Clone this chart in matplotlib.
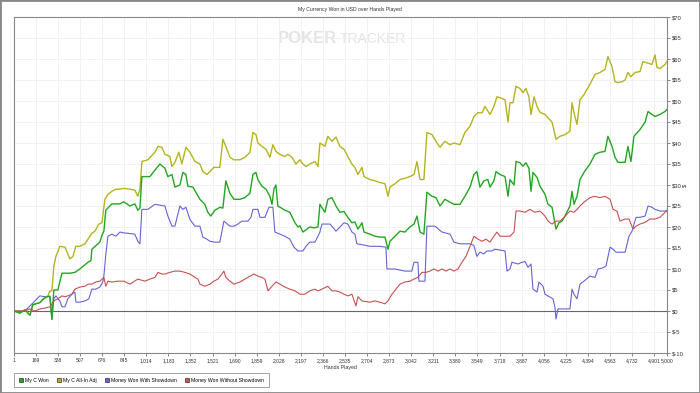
import matplotlib
matplotlib.use("Agg")
import matplotlib.pyplot as plt
from matplotlib.lines import Line2D
from matplotlib.patches import Rectangle

plt.rcParams['font.family'] = ['Liberation Sans', 'DejaVu Sans']

# traced (hand, dollars) points for each series
my_c_won = [(1,0),(46,-0.5),(84,0.3),(123,-1),(145,1.5),(199,2),(230,3),(260,3.5),(276,3.5),(291,-2),(306,5),(337,5),(368,9),(429,9),(467,9.2),(505,10),(567,11.6),(590,12),(597,14.7),(658,16.4),(674,18),(689,19),(704,24),(750,25.5),(812,25.5),(842,26),(888,25),(926,25.5),(949,24),(965,24.5),(980,32),(1041,32),(1118,35),(1156,34),(1179,32),(1210,32.5),(1233,29.5),(1271,30),(1294,33),(1317,32.5),(1332,29.7),(1371,29.5),(1424,26.6),(1462,25.4),(1485,23.5),(1508,22.6),(1539,24),(1577,24.7),(1600,24.5),(1623,31),(1654,28),(1685,26.6),(1731,26.6),(1769,27),(1807,28),(1830,32.5),(1853,33),(1868,31.3),(1899,29.7),(1930,29),(1960,27.3),(1976,25.4),(1991,29),(2006,30),(2021,25),(2037,24.7),(2075,24),(2113,23.5),(2152,21),(2175,20),(2190,20.3),(2213,18.8),(2243,19.5),(2266,20),(2297,19.8),(2328,20),(2343,25.4),(2381,23.5),(2404,26.6),(2435,27),(2466,25),(2496,23.5),(2527,23.7),(2557,22.3),(2588,21),(2611,21.2),(2634,19.5),(2665,21),(2680,18.8),(2726,18.3),(2764,17.8),(2802,17.6),(2841,17.6),(2864,14.7),(2879,16.6),(2917,17.8),(2956,19),(2994,18.8),(3032,20),(3063,20.7),(3086,22.6),(3109,18.8),(3139,18.3),(3162,28.3),(3201,27.3),(3231,27),(3262,25),(3300,26.6),(3339,25.9),(3369,25.4),(3415,25.4),(3453,27.3),(3492,29.5),(3522,32.5),(3545,33.2),(3568,29.5),(3599,31),(3629,31.3),(3645,29.5),(3675,31),(3691,33.2),(3721,32.5),(3760,32),(3783,27.3),(3798,31.3),(3829,30),(3844,35.6),(3874,35.3),(3897,34.5),(3920,35.3),(3943,34),(3959,28.5),(3974,33),(4005,31.8),(4028,29.7),(4066,27.8),(4089,25.4),(4120,24.7),(4150,19.5),(4173,21),(4196,21.4),(4219,22.6),(4257,25),(4273,28.5),(4288,25.4),(4311,27.3),(4334,31.3),(4364,33),(4410,35),(4449,37.3),(4487,37.8),(4525,38),(4548,41.6),(4579,39.2),(4602,36.6),(4625,35.4),(4679,35.4),(4701,39.2),(4724,35.6),(4747,41.6),(4793,43.2),(4832,45),(4855,47.5),(4885,46.8),(4908,46.3),(4946,46.8),(4985,47.5),(5000,48)]

my_c_allin = [(1,0),(46,-0.5),(84,0.3),(123,-1),(145,1.5),(199,2),(230,3),(260,3.5),(276,4.8),(291,4.8),(306,10.7),(322,13),(352,15.4),(391,15.2),(429,12.4),(452,13),(475,15.4),(505,15.4),(544,16),(582,17.8),(597,18.5),(620,19),(651,20.7),(674,21),(697,26.6),(720,27.8),(750,28.5),(781,29),(812,29),(842,29.2),(926,28.8),(949,27.3),(965,29),(980,35.6),(1026,36),(1080,37.8),(1103,39.2),(1133,39),(1156,37.3),(1194,36.8),(1210,34.4),(1233,35.4),(1263,37.8),(1286,35),(1317,39),(1348,37.8),(1386,35.6),(1424,35),(1447,33.2),(1478,32.5),(1501,33.2),(1531,34.2),(1577,34.2),(1600,40.9),(1623,39.2),(1654,36.6),(1685,36),(1731,36),(1769,36.6),(1807,37.8),(1830,42.5),(1853,42),(1868,40),(1899,39.2),(1930,38.5),(1960,36.6),(1983,39.6),(2006,38),(2037,37.3),(2075,36.8),(2098,37.3),(2129,36.6),(2159,35),(2190,36),(2213,35),(2236,34.4),(2266,35),(2305,35.6),(2328,34.4),(2343,40),(2381,39.2),(2404,41.6),(2435,40.4),(2466,41.4),(2496,39.2),(2527,38.5),(2557,36.8),(2588,35),(2611,34.2),(2634,32.5),(2665,34.2),(2680,32),(2726,31.3),(2764,31),(2802,30.6),(2841,30.3),(2864,27.3),(2879,29.5),(2917,30.3),(2956,31.3),(2994,31.6),(3032,32),(3063,32.5),(3086,35.6),(3109,31.3),(3139,31.3),(3162,42.5),(3201,42),(3231,40.4),(3262,39),(3300,40.4),(3339,39.6),(3369,40),(3415,39.6),(3453,42.5),(3492,44),(3522,46.3),(3553,47.2),(3584,47.2),(3606,48.7),(3645,46.8),(3675,48.7),(3698,51),(3721,50.8),(3760,50.3),(3783,45),(3798,49.6),(3821,49.6),(3844,53.5),(3874,53),(3897,52),(3920,53),(3943,51),(3959,46.8),(3982,51),(4005,48.7),(4028,47.3),(4066,46.8),(4089,46),(4120,45),(4150,40.9),(4181,41.6),(4219,42),(4257,42.8),(4273,49.6),(4288,47.2),(4311,44.4),(4334,50.3),(4364,51.5),(4410,54),(4449,56.3),(4487,56.8),(4525,57.5),(4548,60.6),(4579,58.2),(4602,54.6),(4625,54.4),(4656,54.6),(4679,55),(4701,56.8),(4724,55.8),(4755,56.8),(4793,57),(4816,59.4),(4855,59),(4885,58.7),(4908,61),(4923,58),(4946,57.7),(4985,58.7),(5000,59.4)]

with_showdown = [(1,0),(84,0),(123,1.2),(161,2.4),(199,3.6),(237,3.4),(276,3.4),(291,-2),(306,2.9),(322,3.6),(352,2.4),(368,1),(391,1),(413,2.9),(444,4),(467,4.5),(475,2.1),(505,2.1),(544,2.4),(574,2.9),(597,5.2),(628,5.2),(658,5.7),(681,6.9),(689,8.3),(704,13.5),(720,17.8),(750,18.3),(781,17.8),(812,18.8),(842,18.6),(926,18.3),(949,16.6),(965,16),(980,24.2),(1026,24.2),(1080,25.4),(1118,25.2),(1156,25),(1179,22.6),(1210,20.2),(1233,20.2),(1271,25),(1294,24.2),(1317,24.7),(1348,21.8),(1386,20.2),(1424,20.2),(1447,17.6),(1478,17.1),(1501,16.6),(1539,16.4),(1577,16.4),(1608,21.4),(1654,20.2),(1685,20.2),(1715,20.7),(1746,21.4),(1792,21.4),(1815,22.3),(1830,24.2),(1868,24.2),(1884,22.3),(1922,22.3),(1953,24.7),(1983,24.7),(1998,18.8),(2037,18.3),(2075,17.8),(2113,17.1),(2144,15.2),(2175,14.3),(2213,14.3),(2236,15.4),(2266,16.4),(2305,16.4),(2328,17.8),(2343,18.8),(2358,20.7),(2420,20.7),(2466,19),(2527,21),(2557,20.7),(2588,18.8),(2611,18.3),(2626,16),(2665,15.8),(2726,15.4),(2802,15.4),(2848,15.2),(2856,10),(2917,10),(2994,9.5),(3047,9.5),(3063,11.6),(3093,11.6),(3101,7.1),(3147,7.1),(3162,20.2),(3224,20.2),(3277,18.8),(3339,18.3),(3369,16.4),(3415,16),(3453,16),(3492,16),(3522,15.6),(3545,13),(3568,14),(3599,13.6),(3622,14.3),(3660,14.3),(3683,14.7),(3760,14.3),(3775,9.5),(3798,10),(3813,11.6),(3859,11.2),(3890,11.6),(3913,11.8),(3936,10.4),(3959,11.2),(3974,5.2),(4005,4.5),(4020,6.9),(4051,5.9),(4066,4),(4104,3.3),(4127,2.9),(4142,1),(4150,-1.9),(4165,0.5),(4257,0.5),(4273,5.2),(4288,4),(4311,2.9),(4334,6.4),(4364,7.1),(4410,8.3),(4449,8),(4472,10),(4502,10.2),(4533,10.7),(4564,15.2),(4587,14.7),(4610,14),(4679,14),(4709,17.8),(4732,19),(4763,22.3),(4793,22.3),(4832,22.6),(4855,25),(4885,24.7),(4908,24.2),(4946,23.8),(4985,23.8),(5000,24)]

without_showdown = [(1,0),(84,0),(123,0.5),(161,0),(199,0.5),(237,0.7),(276,1),(306,2.4),(337,2.9),(368,3.6),(391,3.4),(413,3.6),(444,4),(467,5.2),(505,5.7),(544,5.9),(567,6.4),(597,6.4),(628,6.9),(658,7.1),(689,8),(704,5.9),(720,7.1),(750,6.9),(796,7.1),(842,7.1),(888,6.4),(949,7.6),(1003,7.1),(1041,7.6),(1080,8),(1103,9.2),(1133,8.8),(1156,8.8),(1194,9.2),(1233,9.5),(1271,9.5),(1309,9.2),(1348,8.8),(1386,8),(1409,7.6),(1424,6.4),(1462,5.9),(1501,6.4),(1531,7.1),(1562,7.6),(1593,8.8),(1608,9.5),(1623,8),(1654,7.1),(1685,6.4),(1731,6.9),(1769,7.6),(1807,8.3),(1838,8.8),(1868,8.3),(1899,8),(1922,7.6),(1945,4.8),(1976,5.9),(2006,6.9),(2037,6.4),(2075,5.7),(2113,5.2),(2152,4.8),(2190,4),(2228,4),(2266,4.8),(2305,5.2),(2328,4.8),(2358,5.2),(2404,5.9),(2435,4.8),(2466,4.8),(2496,4.5),(2527,4),(2557,3.6),(2588,4),(2619,1.2),(2634,3.4),(2665,2.4),(2726,2.1),(2764,2.4),(2802,2.1),(2841,1.7),(2864,2.4),(2894,4),(2925,5.2),(2956,6.4),(2994,6.9),(3032,7.1),(3063,7.6),(3093,8),(3124,9.2),(3155,9.2),(3185,9.5),(3216,10),(3247,9.5),(3277,10),(3308,9.5),(3339,10),(3369,9.5),(3400,10),(3430,11.6),(3461,13),(3492,15.4),(3522,17.8),(3553,17.1),(3584,16.6),(3614,17.1),(3645,16.4),(3675,17.8),(3698,18.8),(3721,17.8),(3798,17.8),(3829,18.8),(3844,23.8),(3874,23.8),(3913,23.5),(3951,24.2),(3989,23.5),(4028,23.8),(4066,22.6),(4089,21.4),(4120,20.7),(4150,21.4),(4181,21.4),(4211,22.3),(4257,23.8),(4288,23.5),(4311,24.2),(4334,25),(4364,25.9),(4410,27),(4449,27.3),(4487,27),(4525,27.3),(4564,26.6),(4587,24.2),(4617,23.8),(4640,21.4),(4679,21.9),(4709,21.9),(4740,19.5),(4763,20.2),(4793,20.7),(4832,21.1),(4870,21.9),(4908,21.9),(4946,22.3),(4985,23.5),(5000,23.8)]

series_names = ["My C Won", "My C All-In Adj", "Money Won With Showdown", "Money Won Without Showdown"]
series_colors = ["#22a622", "#b4b41e", "#6464d8", "#c85050"]

x_ticks = [1] + [169 * k for k in range(1, 30)] + [5000]
y_ticks = list(range(-10, 71, 5))

fig = plt.figure(figsize=(7, 3.93), dpi=100)
ax = fig.add_axes([14/700, 40/393, 653/700, 336/393])

# grid + zero line
ax.set_xticks(x_ticks)
ax.set_xticklabels([f"{t:,}" for t in x_ticks], fontsize=3.6, color="#333333")
ax.set_yticks(y_ticks)
ax.set_yticklabels([f"${t}" for t in y_ticks], fontsize=4.2, color="#333333")
ax.grid(True, color="#efefef", lw=0.6)
ax.set_axisbelow(True)
ax.axhline(0, color="#666666", lw=0.8, zorder=1)

# watermark
ax.text(0.494, 0.935, "POKER", transform=ax.transAxes, ha="right", va="center",
        fontsize=12, fontweight="bold", color="#e4e4e4", zorder=0)
ax.text(0.499, 0.935, "TRACKER", transform=ax.transAxes, ha="left", va="center",
        fontsize=10, color="#e4e4e4", zorder=0)

data = [my_c_won, my_c_allin, with_showdown, without_showdown]
widths = [1.0, 1.0, 0.8, 0.8]
order = [3, 2, 1, 4]
for pts, col, lw, z in zip(data, series_colors, widths, order):
    xs = [p[0] for p in pts]
    ys = [p[1] for p in pts]
    ax.plot(xs, ys, color=col, lw=lw, zorder=z + 1)

ax.set_xlim(1, 5000)
ax.set_ylim(-10, 70)
ax.yaxis.tick_right()
ax.tick_params(axis="both", length=2, width=0.5, pad=1.5, colors="#555555", labelcolor="#333333")
for s in ax.spines.values():
    s.set_color("#888888")
    s.set_linewidth(0.8)

fig.text(0.5, 1 - 10/393, "My Currency Won in USD over Hands Played", ha="center", va="center",
         fontsize=3.7, color="#333333")
fig.text(340/700, 1 - 368/393, "Hands Played", ha="center", va="center", fontsize=3.8, color="#333333")
fig.text(685/700, 1 - 185/393, "$", ha="center", va="center", rotation=90, fontsize=4.2, color="#333333")

handles = [Line2D([], [], marker="s", linestyle="none", markersize=3.2, markerfacecolor=c,
                  markeredgecolor="#333333", markeredgewidth=0.5) for c in series_colors]
leg = fig.legend(handles, series_names, loc="upper left", bbox_to_anchor=(14/700, 1 - 373/393),
                 ncol=4, fontsize=3.7, frameon=True, fancybox=False, edgecolor="#777777",
                 handletextpad=0.4, columnspacing=1.6, borderpad=0.9, handlelength=0.8,
                 borderaxespad=0)
leg.get_frame().set_linewidth(0.6)

fig.patches.append(Rectangle((0, 0), 1, 1, transform=fig.transFigure, fill=False,
                             edgecolor="#888888", lw=2))

fig.savefig("out.png", dpi=100)
